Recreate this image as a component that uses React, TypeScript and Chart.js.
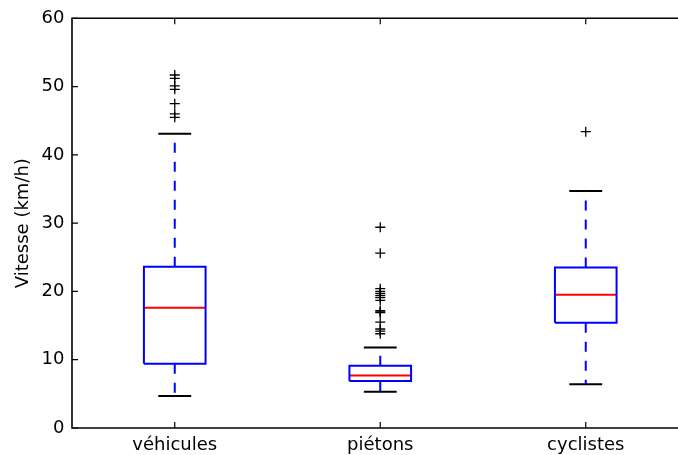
import React, { useEffect, useRef } from "react";
import { Chart, registerables } from "chart.js";

Chart.register(...registerables);

const categories = ["véhicules", "piétons", "cyclistes"];
const whiskerLow = [4.7, 5.3, 6.4];
const q1 = [9.4, 6.9, 15.4];
const median = [17.6, 7.7, 19.5];
const q3 = [23.6, 9.1, 23.5];
const whiskerHigh = [43.1, 11.8, 34.7];
const outliers = [
  [51.7, 51.2, 50.1, 49.6, 47.5, 46.0, 45.5],
  [29.4, 25.6, 20.4, 20.0, 19.7, 19.4, 19.1, 18.7, 17.2, 17.0, 16.9, 15.5, 14.5, 14.2, 13.8],
  [43.4],
];
const yTicks = [0, 10, 20, 30, 40, 50, 60];
const yLabel = "Vitesse (km/h)";

const FONT = "'DejaVu Sans', sans-serif";
const BLUE = "#0000ff";
const RED = "#ff0000";
const LW = 2;
const FRAME_LW = 1.6;
const HALF_BOX = 0.15;
const HALF_CAP = 0.08;

const framePlugin = {
  id: "frame",
  afterDraw(chart: any) {
    const { ctx, chartArea } = chart;
    const { left, right, top, bottom } = chartArea;
    const xs = chart.scales.x;
    const ys = chart.scales.y;
    ctx.save();
    ctx.strokeStyle = "#000";
    ctx.lineWidth = FRAME_LW;
    ctx.beginPath();
    ctx.rect(left, top, right - left, bottom - top);
    ctx.stroke();
    const tl = 6;
    ctx.lineWidth = 1.2;
    ctx.beginPath();
    yTicks.forEach((v) => {
      const y = ys.getPixelForValue(v);
      ctx.moveTo(left, y);
      ctx.lineTo(left + tl, y);
      ctx.moveTo(right, y);
      ctx.lineTo(right - tl, y);
    });
    categories.forEach((_, i) => {
      const x = xs.getPixelForValue(i + 1);
      ctx.moveTo(x, bottom);
      ctx.lineTo(x, bottom - tl);
      ctx.moveTo(x, top);
      ctx.lineTo(x, top + tl);
    });
    ctx.stroke();
    ctx.restore();
  },
};

function lineDs(points: { x: number; y: number }[], color: string, dash: number[] = []) {
  return {
    type: "scatter" as const,
    data: points,
    showLine: true,
    borderColor: color,
    backgroundColor: color,
    borderWidth: LW,
    borderDash: dash,
    borderJoinStyle: "miter" as const,
    borderCapStyle: "butt" as const,
    pointRadius: 0,
    pointHoverRadius: 0,
    tension: 0,
    fill: false,
  };
}

export default function App() {
  const ref = useRef<HTMLCanvasElement>(null);
  useEffect(() => {
    if (!ref.current) return;
    const datasets: any[] = [];
    categories.forEach((_, i) => {
      const x = i + 1;
      datasets.push(
        lineDs(
          [
            { x: x, y: q3[i] },
            { x: x, y: whiskerHigh[i] },
          ],
          BLUE,
          [10, 9]
        )
      );
      datasets.push(
        lineDs(
          [
            { x: x, y: q1[i] },
            { x: x, y: whiskerLow[i] },
          ],
          BLUE,
          [10, 9]
        )
      );
      datasets.push(
        lineDs(
          [
            { x: x - HALF_CAP, y: whiskerHigh[i] },
            { x: x + HALF_CAP, y: whiskerHigh[i] },
          ],
          "#000"
        )
      );
      datasets.push(
        lineDs(
          [
            { x: x - HALF_CAP, y: whiskerLow[i] },
            { x: x + HALF_CAP, y: whiskerLow[i] },
          ],
          "#000"
        )
      );
      datasets.push(
        lineDs(
          [
            { x: x - HALF_BOX, y: q1[i] },
            { x: x + HALF_BOX, y: q1[i] },
            { x: x + HALF_BOX, y: q3[i] },
            { x: x - HALF_BOX, y: q3[i] },
            { x: x - HALF_BOX, y: q1[i] },
          ],
          BLUE
        )
      );
      datasets.push(
        lineDs(
          [
            { x: x - HALF_BOX, y: median[i] },
            { x: x + HALF_BOX, y: median[i] },
          ],
          RED
        )
      );
      datasets.push({
        type: "scatter",
        data: outliers[i].map((v) => ({ x: x, y: v })),
        showLine: false,
        pointStyle: "cross",
        pointRadius: 5,
        pointHoverRadius: 5,
        borderColor: "#000",
        backgroundColor: "#000",
        pointBorderWidth: 1.3,
        borderWidth: 1.3,
      });
    });

    const chart = new Chart(ref.current, {
      type: "scatter",
      data: { datasets },
      options: {
        animation: false,
        responsive: false,
        devicePixelRatio: 1,
        events: [],
        layout: { padding: { left: 0, top: 17, right: 11.5, bottom: 0 } },
        plugins: {
          legend: { display: false },
          tooltip: { enabled: false },
        },
        scales: {
          x: {
            type: "linear",
            min: 0.5,
            max: 3.5,
            grid: { display: false, drawTicks: false },
            border: { display: false },
            afterBuildTicks: (s: any) => {
              s.ticks = categories.map((_, i) => ({ value: i + 1 }));
            },
            afterFit: (s: any) => {
              s.height = 27;
            },
            ticks: {
              autoSkip: false,
              maxRotation: 0,
              padding: 7,
              color: "#000",
              font: { family: FONT, size: 18 },
              callback: (v: any) => categories[Number(v) - 1] ?? "",
            },
          },
          y: {
            type: "linear",
            min: 0,
            max: 60,
            grid: { display: false, drawTicks: false },
            border: { display: false },
            afterBuildTicks: (s: any) => {
              s.ticks = yTicks.map((v) => ({ value: v }));
            },
            afterFit: (s: any) => {
              s.width = 72;
            },
            ticks: {
              padding: 7.5,
              color: "#000",
              font: { family: FONT, size: 18 },
              callback: (v: any) => String(v),
            },
            title: {
              display: true,
              text: yLabel,
              color: "#000",
              font: { family: FONT, size: 18, weight: "normal" },
              padding: { top: 13, bottom: 0 },
            },
          },
        },
      },
      plugins: [framePlugin],
    } as any);
    return () => chart.destroy();
  }, []);

  return (
    <div
      style={{
        position: "fixed",
        left: 0,
        top: 0,
        width: 678,
        height: 455,
        overflow: "hidden",
        background: "#fff",
      }}
    >
      <canvas ref={ref} width={700} height={455} style={{ display: "block" }} />
    </div>
  );
}
